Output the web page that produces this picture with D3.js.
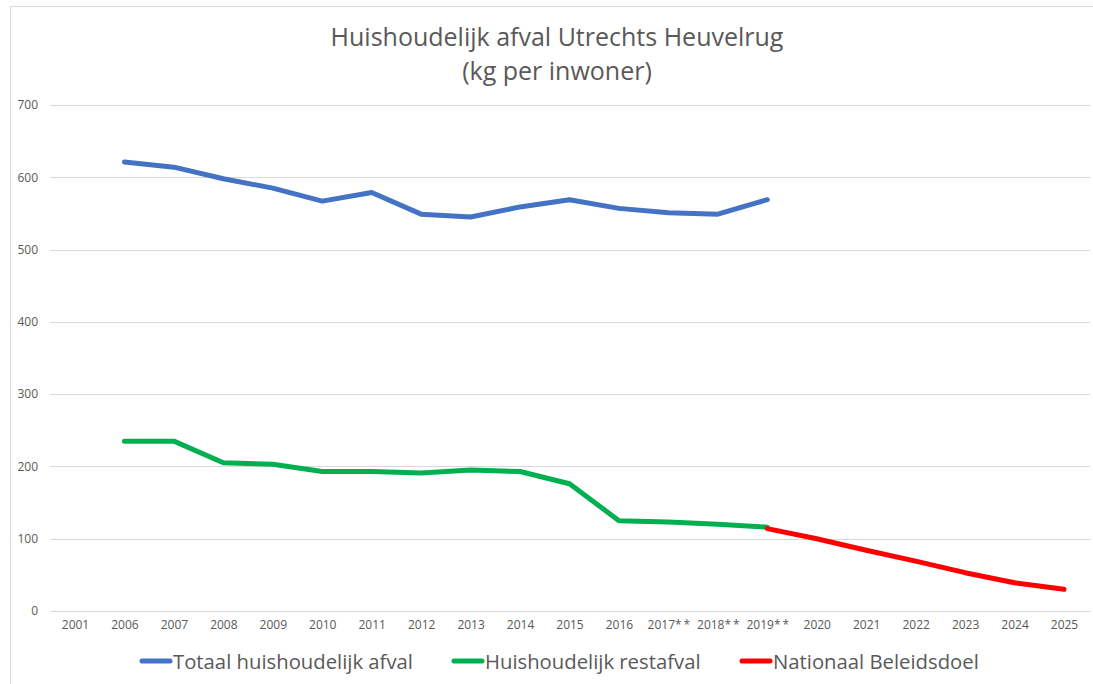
<!DOCTYPE html>
<html>
<head>
<meta charset="utf-8">
<script src="https://cdn.jsdelivr.net/npm/d3@7"></script>
<style>
  body { margin: 0; background: #fff; }
  text { font-family: "Open Sans", sans-serif; fill: #595959; }
</style>
</head>
<body>
<script>
// categories on the x axis
var years = ["2001", "2006", "2007", "2008", "2009", "2010", "2011", "2012", "2013", "2014",
             "2015", "2016", "2017**", "2018**", "2019**", "2020", "2021", "2022", "2023", "2024", "2025"]
// series values (kg per inwoner)
var totaalYears = ["2006", "2007", "2008", "2009", "2010", "2011", "2012", "2013", "2014", "2015", "2016", "2017**", "2018**", "2019**"]
var totaalValues = [621, 614, 598, 585, 567, 579, 549, 545, 559, 569, 557, 551, 549, 569]
var restYears = totaalYears
var restValues = [235, 235, 205, 203, 193, 193, 191, 195, 193, 176, 125, 123, 120, 116]
var doelYears = ["2019**", "2020", "2021", "2022", "2023", "2024", "2025"]
var doelValues = [114, 100, 84, 69, 53, 39, 30]
var yTicks = [0, 100, 200, 300, 400, 500, 600, 700]

var series = [
    { name: "Totaal huishoudelijk afval", color: "#4472C4", x: totaalYears, y: totaalValues },
    { name: "Huishoudelijk restafval", color: "#00B050", x: restYears, y: restValues },
    { name: "Nationaal Beleidsdoel", color: "#FF0000", x: doelYears, y: doelValues }
]

var w = 1093
var h = 684

var svg = d3.select("body")
    .append("svg")
    .attr("width", w)
    .attr("height", h)

// chart border
svg.append("rect")
    .attr("x", 10.5)
    .attr("y", 6.5)
    .attr("width", 1200)
    .attr("height", 800)
    .attr("fill", "none")
    .attr("stroke", "#d9d9d9")

var xScale = d3.scalePoint()
    .domain(years)
    .range([75, 1064])

var yScale = d3.scaleLinear()
    .domain([0, 700])
    .range([611, 105])

// gridlines
svg.append("g")
    .selectAll("line")
    .data(yTicks)
    .enter()
    .append("line")
    .attr("x1", 50)
    .attr("x2", 1090)
    .attr("y1", function(d) { return Math.round(yScale(d)) + 0.5 })
    .attr("y2", function(d) { return Math.round(yScale(d)) + 0.5 })
    .attr("stroke", "#d9d9d9")
    .attr("stroke-width", 1)

// y axis labels
var yAxis = d3.axisLeft(yScale)
    .tickValues(yTicks)
    .tickSize(0)
    .tickPadding(0)
var gy = svg.append("g")
    .attr("transform", "translate(38,0)")
    .call(yAxis)
gy.select(".domain").remove()
gy.selectAll("text")
    .attr("font-size", 12)
    .attr("font-family", "'Open Sans', sans-serif")
    .style("fill", "#595959")

// x axis labels (asterisks are spaced out like in the source)
var xAxis = d3.axisBottom(xScale)
    .tickSize(0)
    .tickPadding(0)
    .tickFormat(function(d) { return d.replace("**", "*\u2009*") })
var gx = svg.append("g")
    .attr("transform", "translate(0,620)")
    .call(xAxis)
gx.select(".domain").remove()
gx.selectAll("text")
    .attr("font-size", 12)
    .attr("font-family", "'Open Sans', sans-serif")
    .style("fill", "#595959")

// lines
var line = d3.line()
    .x(function(d) { return xScale(d[0]) })
    .y(function(d) { return yScale(d[1]) })

series.forEach(function(s) {
    svg.append("path")
        .datum(d3.zip(s.x, s.y))
        .attr("d", line)
        .attr("fill", "none")
        .attr("stroke", s.color)
        .attr("stroke-width", 5)
        .attr("stroke-linecap", "round")
        .attr("stroke-linejoin", "round")
})

// title
svg.append("text")
    .attr("text-anchor", "middle")
    .attr("x", 557)
    .attr("y", 46)
    .attr("font-size", 25)
    .text("Huishoudelijk afval Utrechts Heuvelrug")
svg.append("text")
    .attr("text-anchor", "middle")
    .attr("x", 557)
    .attr("y", 80)
    .attr("font-size", 25)
    .text("(kg per inwoner)")

// legend
var legendX = [140, 452, 740]
var legend = svg.append("g")
series.forEach(function(s, i) {
    legend.append("line")
        .attr("x1", legendX[i] + 2)
        .attr("x2", legendX[i] + 30)
        .attr("y1", 661)
        .attr("y2", 661)
        .attr("stroke", s.color)
        .attr("stroke-width", 5)
        .attr("stroke-linecap", "round")
    legend.append("text")
        .attr("x", legendX[i] + 33)
        .attr("y", 669)
        .attr("font-size", 20.3)
        .text(s.name)
})
</script>
</body>
</html>
